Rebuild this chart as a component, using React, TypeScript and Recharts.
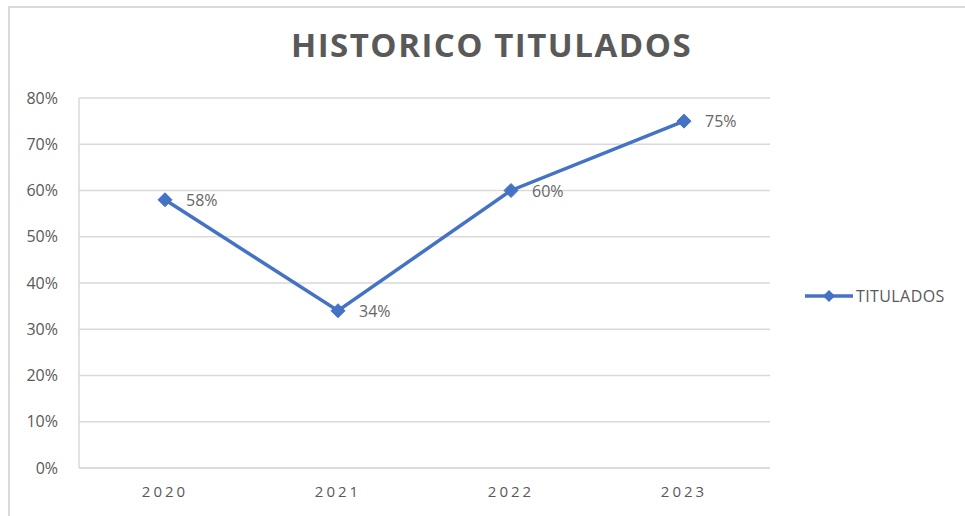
import { LineChart, Line, XAxis, YAxis, CartesianGrid, LabelList } from "recharts";

const years = ["2020", "2021", "2022", "2023"];
const titulados = [0.58, 0.34, 0.6, 0.75];
const yTicks = [0, 0.1, 0.2, 0.3, 0.4, 0.5, 0.6, 0.7, 0.8];

const data = years.map((year, i) => ({ year, titulados: titulados[i] }));

const BLUE = "#4472C4";
const GRAY = "#595959";
const GRID = "#d9d9d9";
const FONT = "'Open Sans', 'Liberation Sans', sans-serif";

const pct = (v: number) => `${Math.round(v * 100)}%`;

function Diamond(props: any) {
  const { cx, cy } = props;
  if (cx == null || cy == null) return null;
  const s = 7;
  return (
    <polygon
      points={`${cx},${cy - s} ${cx + s},${cy} ${cx},${cy + s} ${cx - s},${cy}`}
      fill={BLUE}
      stroke={BLUE}
      strokeWidth={1}
      strokeLinejoin="round"
    />
  );
}

function PointLabel(props: any) {
  const { x, y, value } = props;
  return (
    <text
      x={x + 21}
      y={y + 2}
      fill="#666666"
      fontSize={16}
      fontFamily={FONT}
      dominantBaseline="middle"
    >
      {pct(value)}
    </text>
  );
}

// legend drawn by hand so it doesn't eat into the plot area
function LegendBox() {
  return (
    <div
      style={{
        position: "absolute",
        left: 797,
        top: 279,
        display: "flex",
        alignItems: "center",
        fontFamily: FONT,
        fontSize: 16,
        letterSpacing: 0.4,
        color: GRAY,
      }}
    >
      <svg width={50} height={16}>
        <line x1={0} y1={8} x2={48} y2={8} stroke={BLUE} strokeWidth={3.5} />
        <polygon points="24,2 30,8 24,14 18,8" fill={BLUE} />
      </svg>
      <span style={{ marginLeft: 1 }}>TITULADOS</span>
    </div>
  );
}

export default function App() {
  return (
    <div style={{ position: "absolute", left: 8, top: 6, width: 957, height: 510, background: "#fff" }}>
      <div
        style={{
          position: "absolute",
          left: 0,
          width: 967,
          top: 21.7,
          textAlign: "center",
          fontFamily: FONT,
          fontWeight: 700,
          fontSize: 33,
          lineHeight: "33px",
          letterSpacing: 1.5,
          color: GRAY,
        }}
      >
        HISTORICO TITULADOS
      </div>
      <LineChart
        width={957}
        height={510}
        data={data}
        margin={{ top: 92, right: 195, bottom: 18, left: 0 }}
        style={{ position: "absolute", left: 0, top: 0 }}
      >
        <CartesianGrid horizontal vertical={false} stroke={GRID} strokeWidth={1.5} />
        <XAxis
          dataKey="year"
          height={30}
          padding={{ left: 86, right: 86 }}
          axisLine={{ stroke: GRID, strokeWidth: 1.5 }}
          tickLine={false}
          tickSize={0}
          tickMargin={18}
          tick={{ fill: GRAY, fontSize: 15, fontFamily: FONT, letterSpacing: 3 }}
        />
        <YAxis
          width={71}
          domain={[0, 0.8]}
          ticks={yTicks}
          tickFormatter={pct}
          axisLine={{ stroke: GRID, strokeWidth: 1.5 }}
          tickLine={false}
          tickSize={0}
          tickMargin={21}
          tick={{ fill: GRAY, fontSize: 16, fontFamily: FONT }}
        />
        <Line
          type="linear"
          dataKey="titulados"
          name="TITULADOS"
          stroke={BLUE}
          strokeWidth={3.5}
          dot={<Diamond />}
          activeDot={false}
          isAnimationActive={false}
        >
          <LabelList dataKey="titulados" content={<PointLabel />} />
        </Line>
      </LineChart>
      <LegendBox />
      <div
        style={{
          position: "absolute",
          left: 0,
          top: 0,
          width: 957,
          height: 510,
          borderTop: `2px solid ${GRID}`,
          borderLeft: `2px solid ${GRID}`,
          boxSizing: "border-box",
          pointerEvents: "none",
          zIndex: 5,
        }}
      />
    </div>
  );
}
